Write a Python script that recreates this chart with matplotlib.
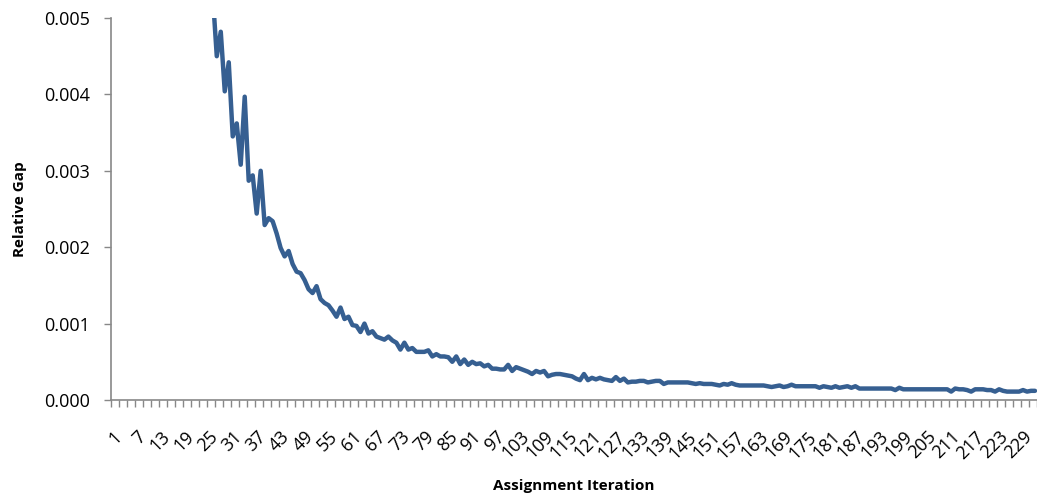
import matplotlib
matplotlib.use("Agg")
import matplotlib.pyplot as plt
import numpy as np

iterations = list(range(1, 233))

relative_gap = [
    0.0950, 0.0610, 0.0420, 0.0330, 0.0265, 0.0221, 0.0190, 0.0168, 0.0150, 0.0137,
    0.0124, 0.0113, 0.0104, 0.0096, 0.0090, 0.0084, 0.0079, 0.0074, 0.0070, 0.0066,
    0.0063, 0.0060, 0.0058, 0.0056, 0.0055, 0.0053, 0.00450, 0.00482, 0.00404, 0.00442,
    0.00345, 0.00362, 0.00308, 0.00397, 0.00287, 0.00294, 0.00244, 0.00300, 0.00229, 0.00238,
    0.00234, 0.00218, 0.00199, 0.00188, 0.00195, 0.00178, 0.00168, 0.00166, 0.00157, 0.00145,
    0.00140, 0.00149, 0.00132, 0.00127, 0.00124, 0.00117, 0.00109, 0.00121, 0.00106, 0.00109,
    0.00098, 0.00097, 0.00089, 0.00100, 0.00087, 0.00090, 0.00083, 0.00081, 0.00079, 0.00083,
    0.00078, 0.00075, 0.00066, 0.00075, 0.00066, 0.00068, 0.00063, 0.00063, 0.00063, 0.00065,
    0.00057, 0.00060, 0.00057, 0.00057, 0.00056, 0.00050, 0.00057, 0.00047, 0.00053, 0.00046,
    0.00050, 0.00047, 0.00048, 0.00044, 0.00046, 0.00041, 0.00041, 0.00040, 0.00040, 0.00046,
    0.00038, 0.00043, 0.00041, 0.00039, 0.00037, 0.00034, 0.00038, 0.00036, 0.00038, 0.00031,
    0.00033, 0.00034, 0.00034, 0.00033, 0.00032, 0.00031, 0.00028, 0.00026, 0.00034, 0.00026,
    0.00029, 0.00027, 0.00029, 0.00027, 0.00026, 0.00025, 0.00030, 0.00025, 0.00028, 0.00023,
    0.00024, 0.00024, 0.00025, 0.00025, 0.00023, 0.00024, 0.00025, 0.00025, 0.00021, 0.00023,
    0.00023, 0.00023, 0.00023, 0.00023, 0.00023, 0.00022, 0.00021, 0.00022, 0.00021, 0.00021,
    0.00021, 0.00020, 0.00019, 0.00021, 0.00020, 0.00022, 0.00020, 0.00019, 0.00019, 0.00019,
    0.00019, 0.00019, 0.00019, 0.00019, 0.00018, 0.00017, 0.00018, 0.00019, 0.00017, 0.00018,
    0.00020, 0.00018, 0.00018, 0.00018, 0.00018, 0.00018, 0.00018, 0.00016, 0.00018, 0.00017,
    0.00016, 0.00018, 0.00016, 0.00017, 0.00018, 0.00016, 0.00018, 0.00015, 0.00015, 0.00015,
    0.00015, 0.00015, 0.00015, 0.00015, 0.00015, 0.00015, 0.00013, 0.00016, 0.00014, 0.00014,
    0.00014, 0.00014, 0.00014, 0.00014, 0.00014, 0.00014, 0.00014, 0.00014, 0.00014, 0.00014,
    0.00011, 0.00015, 0.00014, 0.00014, 0.00013, 0.00011, 0.00014, 0.00014, 0.00014, 0.00013,
    0.00013, 0.00011, 0.00014, 0.00012, 0.00011, 0.00011, 0.00011, 0.00011, 0.00013, 0.00011,
    0.00012, 0.00012,
]

y_ticks = [0.000, 0.001, 0.002, 0.003, 0.004, 0.005]
x_label_step = 6

line_color = "#365f91"
axis_color = "#888888"
font = "Open Sans"

fig = plt.figure(figsize=(10.37, 5.0), dpi=100)
ax = fig.add_axes([111 / 1037, 100 / 500, 926 / 1037, 382 / 500])

ax.plot(iterations, relative_gap, color=line_color, lw=3.2, solid_joinstyle="round",
        solid_capstyle="round", clip_on=True)

n = len(iterations)
ax.set_xlim(0.5, n + 0.5)
ax.set_ylim(0, 0.005)

ax.set_yticks(y_ticks)
ax.set_yticklabels([f"{v:.3f}" for v in y_ticks], fontsize=13, family=font)

label_pos = iterations[::x_label_step]
ax.set_xticks(label_pos)
ax.set_xticklabels([str(i) for i in label_pos], rotation=45, ha="right",
                   rotation_mode="anchor", fontsize=13, family=font)
ax.tick_params(axis="x", length=0, pad=20)
ax.set_xticks(np.arange(0.5, n + 1, 2), minor=True)
ax.tick_params(axis="x", which="minor", length=5, width=1, color=axis_color, direction="out")
ax.tick_params(axis="y", length=5, width=1, color=axis_color, direction="out", pad=10)

for s in ["top", "right"]:
    ax.spines[s].set_visible(False)
for s in ["left", "bottom"]:
    ax.spines[s].set_color(axis_color)
    ax.spines[s].set_linewidth(1.2)

ax.set_xlabel("Assignment Iteration", fontsize=11, fontweight="bold", family=font, labelpad=12)
ax.set_ylabel("Relative Gap", fontsize=11, fontweight="bold", family=font, labelpad=12)

fig.savefig("out.png", dpi=100)
